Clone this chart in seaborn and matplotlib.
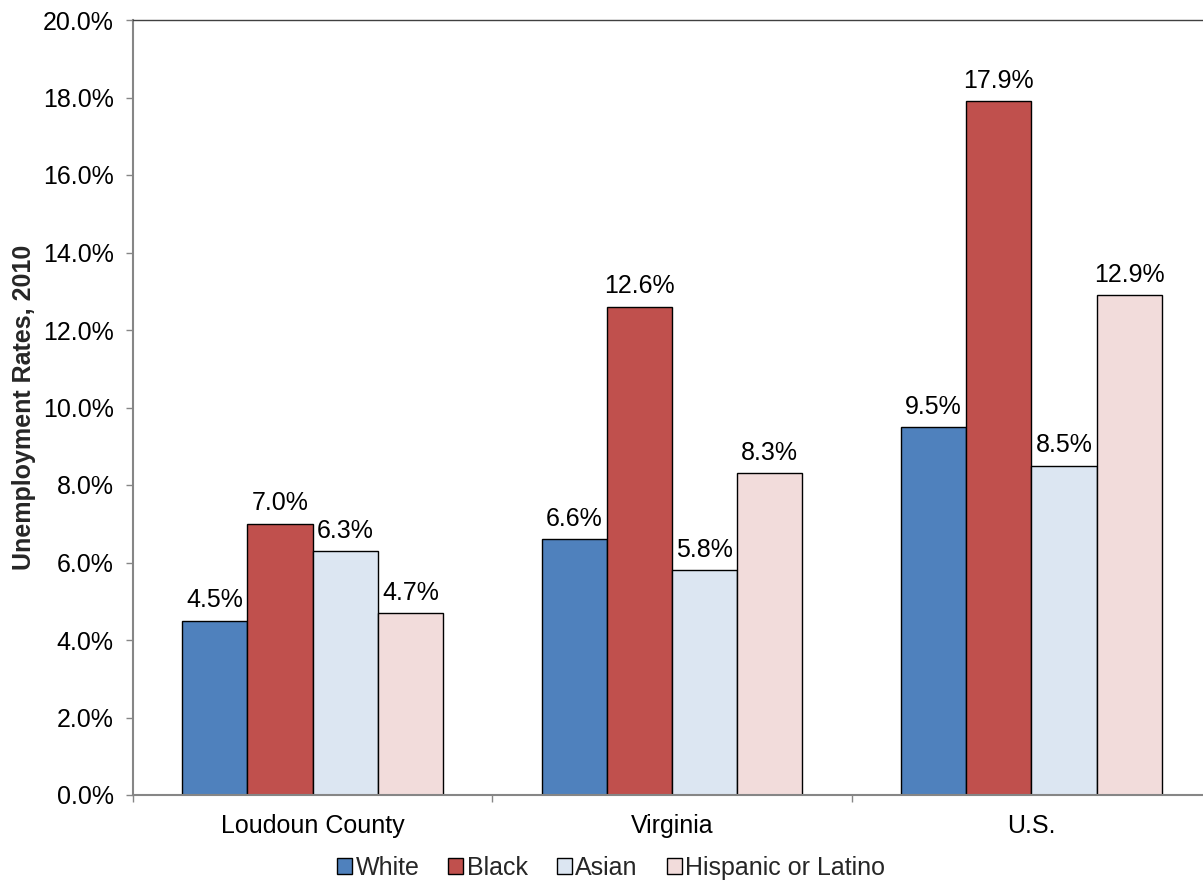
import matplotlib
matplotlib.use("Agg")
import matplotlib.pyplot as plt
import seaborn as sns
import pandas as pd
import numpy as np
from matplotlib.ticker import FuncFormatter, FixedLocator
from matplotlib.patches import Patch

sns.set_theme(style="white")
plt.rcParams['font.family'] = ['Liberation Sans', 'DejaVu Sans']

categories = ["Loudoun County", "Virginia", "U.S."]
groups = ["White", "Black", "Asian", "Hispanic or Latino"]
white = [4.5, 6.6, 9.5]
black = [7.0, 12.6, 17.9]
asian = [6.3, 5.8, 8.5]
hispanic = [4.7, 8.3, 12.9]
colors = ["#4F81BD", "#C0504D", "#DCE6F2", "#F2DCDB"]

rows = []
for g, vals in zip(groups, [white, black, asian, hispanic]):
    for c, v in zip(categories, vals):
        rows.append({"Area": c, "Group": g, "Rate": v})
df = pd.DataFrame(rows)

FS = 18

fig = plt.figure(figsize=(12.03, 8.82), dpi=100)
ax = fig.add_axes([133/1203, (882-795)/882, (1211-133)/1203, (795-20)/882])

sns.barplot(data=df, x="Area", y="Rate", hue="Group", order=categories,
            hue_order=groups, palette=colors, width=0.726, edgecolor="black",
            linewidth=1.0, saturation=1, ax=ax, legend=False)

for cont in ax.containers:
    ax.bar_label(cont, labels=[f"{v:.1f}%" for v in cont.datavalues],
                 padding=6, fontsize=FS, color="black")

ax.set_ylim(0, 20)
ax.set_xlim(-0.5, 2.5)
ax.set_yticks(np.arange(0, 20.1, 2))
ax.yaxis.set_major_formatter(FuncFormatter(lambda v, p: f"{v:.1f}%"))
ax.tick_params(axis="y", labelsize=FS, length=5, width=1, color="#868686",
               direction="out", left=True, pad=9, labelcolor="black")
ax.tick_params(axis="x", which="major", labelsize=FS, length=0, pad=14, labelcolor="black")
ax.xaxis.set_minor_locator(FixedLocator([-0.5, 0.5, 1.5, 2.5]))
ax.tick_params(axis="x", which="minor", length=5, width=1, color="#868686",
               direction="out", bottom=True)
ax.set_xlabel("")
ax.set_ylabel("Unemployment Rates, 2010", fontsize=FS, fontweight="bold", labelpad=5)

for s in ["left", "bottom"]:
    ax.spines[s].set_color("#868686")
    ax.spines[s].set_linewidth(1.5)
ax.spines["top"].set_color("#404040")
ax.spines["top"].set_linewidth(1.0)
ax.spines["right"].set_color("#404040")

handles = [Patch(facecolor=c, edgecolor="black", linewidth=1) for c in colors]
fig.legend(handles, groups, loc="center", bbox_to_anchor=(611/1203, 1-868/882),
           ncol=4, frameon=False, fontsize=FS, handlelength=0.6, handleheight=0.6,
           handletextpad=0.15, columnspacing=1.15, borderpad=0)

fig.savefig("out.png", dpi=100)
